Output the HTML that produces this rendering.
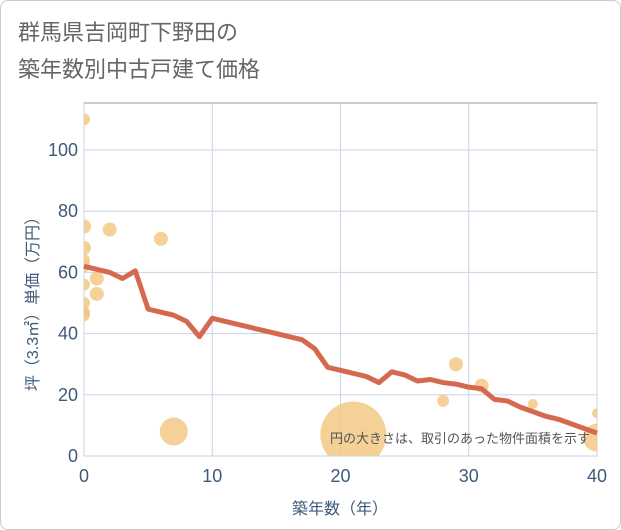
<!DOCTYPE html>
<html><head><meta charset="utf-8"><style>
body{margin:0;background:#fff;font-family:"Liberation Sans","Noto Sans CJK JP",sans-serif;}
#wrap{position:relative;width:619px;height:528px;border:1px solid #ccc;border-radius:8px;}
</style></head><body>
<div id="wrap">
<svg id="c" width="621" height="530" style="position:absolute;left:-1px;top:-1px">
<defs><clipPath id="pc"><rect x="84" y="103" width="513" height="353"/></clipPath></defs>
<text x="18" y="40" font-size="22" fill="#666">群馬県吉岡町下野田の</text>
<text x="18" y="77" font-size="22" fill="#666">築年数別中古戸建て価格</text>
<g id="grid"></g><g id="bub" clip-path="url(#pc)"></g><g id="ln"></g><g id="ax"></g>
<text x="590" y="443" font-size="13" fill="#555" text-anchor="end">円の大きさは、取引のあった物件面積を示す</text>
<text x="340" y="514" font-size="16" fill="#3f5a7a" text-anchor="middle">築年数（年）</text>
<text transform="translate(38,300) rotate(-90)" font-size="16" fill="#3f5a7a" text-anchor="middle">坪（3.3㎡）単価（万円）</text>
</svg></div>
<script>
const xTicks=[0,10,20,30,40];
const yTicks=[0,20,40,60,80,100];
const lineX=[0,1,2,3,4,5,6,7,8,9,10,11,12,13,14,15,16,17,18,19,20,21,22,23,24,25,26,27,28,29,30,31,32,33,34,35,36,37,38,39,40];
const lineY=[62,61,60,58,60.5,48,47,46,44,39,45,44,43,42,41,40,39,38,35,29,28,27,26,24,27.5,26.5,24.5,25,24,23.5,22.5,22,18.5,18,16,14.5,13,12,10.5,9,7.5];
const bubX=[0,0,0,0,0,0,0,0,0,1,1,2,6,7,21,28,29,31,35,40,40];
const bubY=[110,75,68,64,62,56,50,47,46,58,53,74,71,8,7,18,30,23,17,14,6];
const bubR=[6,7,7,6,6,6,6,6,6,7,7,7,7,14,33,6,7,7,5,5,14];
const L=84,R=597,T=103,B=456;
const xs=v=>L+(R-L)*v/40, ys=v=>B-(B-150)*v/100;
const NS="http://www.w3.org/2000/svg";
function mk(p,t,a){const e=document.createElementNS(NS,t);for(const k in a)e.setAttribute(k,a[k]);document.getElementById(p).appendChild(e);return e;}
let e=mk('grid','rect',{x:L,y:T,width:R-L,height:B-T,fill:'none',stroke:'#999'});


xTicks.forEach(t=>{let g=mk('grid','line',{x1:xs(t),x2:xs(t),y1:T,y2:B,stroke:'#c8d4e6'});


let tx=mk('ax','text',{x:xs(t),y:B+26,'font-size':18,fill:'#3f5a7a','text-anchor':'middle'});tx.textContent=t;

});
yTicks.forEach(t=>{let g=mk('grid','line',{x1:L,x2:R,y1:ys(t),y2:ys(t),stroke:'#c8d4e6'});


let tx=mk('ax','text',{x:L-6,y:ys(t)+6,'font-size':18,fill:'#3f5a7a','text-anchor':'end'});tx.textContent=t;

});
bubX.forEach((x,i)=>{let c=mk('bub','circle',{cx:xs(x),cy:ys(bubY[i]),r:bubR[i],fill:'#f3c67e','fill-opacity':0.8});

});
let p=mk('ln','polyline',{points:lineX.map((x,i)=>xs(x)+','+ys(lineY[i])).join(' '),fill:'none',stroke:'#d4694f','stroke-width':5,'stroke-linejoin':'round'});


</script></body></html>
